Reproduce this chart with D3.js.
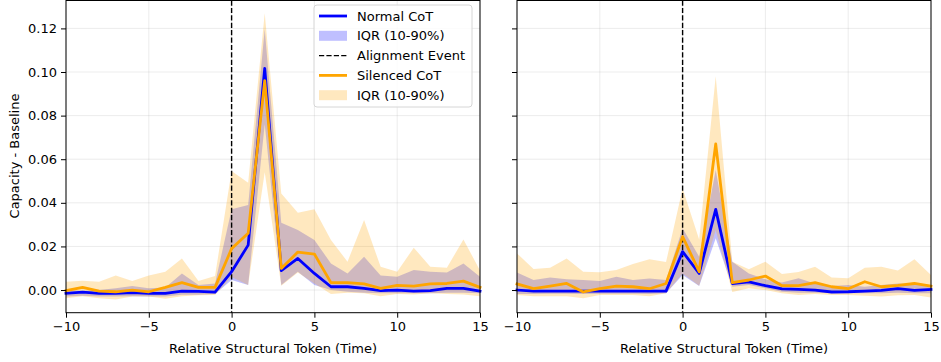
<!DOCTYPE html>
<html>
<head>
<meta charset="utf-8">
<script src="https://cdn.jsdelivr.net/npm/d3@7"></script>
<style>
  html, body { margin: 0; padding: 0; background: #fff; }
  svg { display: block; font-family: "DejaVu Sans", sans-serif; }
</style>
</head>
<body>
<svg id="chart" width="941" height="362"></svg>
<script>
// Relative token positions around the alignment event
const steps = d3.range(-10, 16);

// Left panel
const leftNormal = [-0.0015,-0.001,-0.0015,-0.0015,-0.0012,-0.0015,-0.0015,-0.0005,-0.0006,-0.001,0.0084,0.0206,0.1017,0.0089,0.0145,0.0076,0.0015,0.0015,0.0008,-0.0003,0,-0.0005,-0.0003,0.0008,0.0008,-0.0005];
const leftNormalLo = [-0.003,-0.0026,-0.003,-0.003,-0.0028,-0.003,-0.003,-0.0022,-0.0022,-0.0018,0.0046,0.0023,0.076,0.0023,0.0084,0.0023,0,-0.0008,-0.0012,-0.0015,-0.0015,-0.0015,-0.0015,-0.0012,-0.0012,-0.0015];
const leftNormalHi = [0,-0.0003,0,0.0008,0.0018,0.0008,0.0012,0.0076,0.0023,0.003,0.037,0.039,0.1196,0.0309,0.0275,0.0229,0.0122,0.0076,0.0153,0.0067,0.0061,0.0092,0.0084,0.008,0.0122,0.0061];
const leftSilenced = [-0.0003,0.0012,-0.0005,-0.0008,0,-0.0008,0.0012,0.0034,0.0012,0.0012,0.019,0.026,0.096,0.0099,0.0174,0.0165,0.0034,0.0034,0.0028,0.0008,0.0021,0.0018,0.0028,0.003,0.0041,0.0012];
const leftSilencedLo = [-0.0038,-0.0028,-0.0038,-0.0043,-0.003,-0.003,-0.004,-0.0028,-0.0024,-0.0023,0.006,0.0023,0.054,0.002,0.008,0.003,-0.0018,-0.0012,-0.0015,-0.0028,-0.0018,-0.002,-0.0015,-0.0018,-0.002,-0.0028];
const leftSilencedHi = [0.0038,0.0043,0.0038,0.0067,0.0041,0.0067,0.0084,0.0145,0.0041,0.0064,0.0546,0.0492,0.127,0.0443,0.0355,0.037,0.0229,0.013,0.0321,0.0107,0.0084,0.0194,0.0107,0.0102,0.0232,0.0089];

// Right panel
const rightNormal = [0,-0.0005,-0.0005,-0.0005,-0.0005,-0.0005,-0.0005,-0.0005,-0.0005,-0.0005,0.0176,0.0076,0.037,0.003,0.0037,0.002,0.0005,0.0003,0,-0.0009,-0.0008,-0.0005,-0.0002,0.0006,-0.0002,0.0003];
const rightNormalLo = [-0.0018,-0.0018,-0.0017,-0.0017,-0.0018,-0.0017,-0.0017,-0.0017,-0.0018,-0.0015,0.0069,0.0018,0.0237,0.0015,0.0023,0.0008,-0.0008,-0.0012,-0.0012,-0.0015,-0.0015,-0.0015,-0.0015,-0.0012,-0.0015,-0.0015];
const rightNormalHi = [0.008,0.0046,0.0057,0.005,0.0046,0.0041,0.0061,0.0046,0.0053,0.0046,0.0283,0.0153,0.055,0.013,0.0076,0.0049,0.0034,0.0054,0.003,0.0018,0.0023,0.0015,0.0023,0.003,0.0027,0.0023];
const rightSilenced = [0.0028,0.0006,0.0018,0.003,-0.0009,0.0006,0.0018,0.0015,0.0006,0.003,0.0245,0.0084,0.067,0.0034,0.0046,0.0064,0.002,0.002,0.0034,0.0015,0.0006,0.0038,0.0015,0.0021,0.003,0.0018];
const rightSilencedLo = [-0.0023,-0.0028,-0.0028,-0.0028,-0.0038,-0.0023,-0.0023,-0.0023,-0.0028,-0.0015,0.0076,0.002,0.0275,-0.0009,0.0008,0,-0.0015,-0.0023,-0.0018,-0.0023,-0.0023,-0.0026,-0.003,-0.0024,-0.0023,-0.0034];
const rightSilencedHi = [0.0168,0.0096,0.0102,0.0145,0.0084,0.0081,0.0092,0.0119,0.0141,0.0128,0.0466,0.0232,0.098,0.013,0.0095,0.013,0.0073,0.0083,0.0107,0.0057,0.0054,0.0102,0.0107,0.0089,0.0141,0.0069];

const xTicks = [-10, -5, 0, 5, 10, 15];
const yTicks = [0, 0.02, 0.04, 0.06, 0.08, 0.1, 0.12];

const BLUE = "#0000ff", ORANGE = "#ffa500";
const svg = d3.select("#chart");
const plotTop = 0.5, plotBottom = 312.7;
const y = d3.scaleLinear().domain([-0.0104, 0.1328]).range([plotBottom, plotTop]);
const minus = s => s.replace("-", "\u2212");

function panel(x0, x1, data, showYLabels, showLegend) {
  const x = d3.scaleLinear().domain([-10, 15]).range([x0, x1]);
  const g = svg.append("g");

  // grid
  g.append("g").selectAll("line").data(xTicks).join("line")
    .attr("x1", d => x(d)).attr("x2", d => x(d)).attr("y1", plotTop).attr("y2", plotBottom)
    .attr("stroke", "#b0b0b0").attr("stroke-opacity", 0.3).attr("stroke-width", 0.8);
  g.append("g").selectAll("line").data(yTicks).join("line")
    .attr("x1", x0).attr("x2", x1).attr("y1", d => y(d)).attr("y2", d => y(d))
    .attr("stroke", "#b0b0b0").attr("stroke-opacity", 0.3).attr("stroke-width", 0.8);

  const area = (lo, hi) => d3.area().x((d, i) => x(steps[i])).y0((d, i) => y(lo[i])).y1((d, i) => y(hi[i]))(steps);
  const line = v => d3.line().x((d, i) => x(steps[i])).y((d, i) => y(v[i]))(steps);

  g.append("path").attr("d", area(data.nLo, data.nHi)).attr("fill", BLUE).attr("fill-opacity", 0.25);
  g.append("path").attr("d", area(data.sLo, data.sHi)).attr("fill", ORANGE).attr("fill-opacity", 0.25);

  // alignment event
  g.append("line").attr("x1", x(0)).attr("x2", x(0)).attr("y1", plotTop).attr("y2", plotBottom)
    .attr("stroke", "#000").attr("stroke-width", 1.4).attr("stroke-dasharray", "5.2,2.2");

  g.append("path").attr("d", line(data.n)).attr("fill", "none").attr("stroke", BLUE)
    .attr("stroke-width", 2.8).attr("stroke-linejoin", "round").attr("stroke-linecap", "square");
  g.append("path").attr("d", line(data.s)).attr("fill", "none").attr("stroke", ORANGE)
    .attr("stroke-width", 2.8).attr("stroke-linejoin", "round").attr("stroke-linecap", "square");

  // frame
  g.append("rect").attr("x", x0).attr("y", plotTop).attr("width", x1 - x0).attr("height", plotBottom - plotTop)
    .attr("fill", "none").attr("stroke", "#000").attr("stroke-width", 1);

  // axes
  const xAxis = d3.axisBottom(x).tickValues(xTicks).tickSize(5).tickPadding(4).tickFormat(d => minus(String(d)));
  const xg = g.append("g").attr("transform", `translate(0,${plotBottom})`).call(xAxis);
  xg.select(".domain").remove();
  xg.selectAll("text").attr("font-size", 13).attr("font-family", "DejaVu Sans").attr("fill", "#000");

  const yAxis = d3.axisLeft(y).tickValues(yTicks).tickSize(5).tickPadding(4)
    .tickFormat(showYLabels ? d3.format(".2f") : () => "");
  const yg = g.append("g").attr("transform", `translate(${x0},0)`).call(yAxis);
  yg.select(".domain").remove();
  yg.selectAll("text").attr("font-size", 13).attr("font-family", "DejaVu Sans").attr("fill", "#000");

  g.append("text").attr("x", (x0 + x1) / 2).attr("y", 353).attr("text-anchor", "middle")
    .attr("font-size", 13).text("Relative Structural Token (Time)");

  if (showLegend) {
    const lx = 314, ly = 5;
    const lg = g.append("g").attr("transform", `translate(${lx},${ly})`);
    lg.append("rect").attr("width", 158).attr("height", 102).attr("rx", 3)
      .attr("fill", "#fff").attr("fill-opacity", 0.8).attr("stroke", "#d6d6d6");
    const items = [
      { label: "Normal CoT", kind: "line", color: BLUE },
      { label: "IQR (10-90%)", kind: "patch", color: BLUE },
      { label: "Alignment Event", kind: "dash", color: "#000" },
      { label: "Silenced CoT", kind: "line", color: ORANGE },
      { label: "IQR (10-90%)", kind: "patch", color: ORANGE }
    ];
    items.forEach((it, i) => {
      const cy = 11 + i * 19.8;
      if (it.kind === "line") {
        lg.append("line").attr("x1", 5).attr("x2", 33).attr("y1", cy).attr("y2", cy)
          .attr("stroke", it.color).attr("stroke-width", 2.8);
      } else if (it.kind === "dash") {
        lg.append("line").attr("x1", 5).attr("x2", 33).attr("y1", cy).attr("y2", cy)
          .attr("stroke", it.color).attr("stroke-width", 1.4).attr("stroke-dasharray", "5.2,2.2");
      } else {
        lg.append("rect").attr("x", 5).attr("y", cy - 5).attr("width", 28).attr("height", 10)
          .attr("fill", it.color).attr("fill-opacity", 0.25);
      }
      lg.append("text").attr("x", 43).attr("y", cy).attr("dy", "0.35em")
        .attr("font-size", 13).text(it.label);
    });
  }
}

panel(66, 480, { n: leftNormal, nLo: leftNormalLo, nHi: leftNormalHi, s: leftSilenced, sLo: leftSilencedLo, sHi: leftSilencedHi }, true, true);
panel(517, 931, { n: rightNormal, nLo: rightNormalLo, nHi: rightNormalHi, s: rightSilenced, sLo: rightSilencedLo, sHi: rightSilencedHi }, false, false);

svg.append("text").attr("transform", "translate(19,156) rotate(-90)").attr("text-anchor", "middle")
  .attr("font-size", 13).text("Capacity - Baseline");
</script>
</body>
</html>
